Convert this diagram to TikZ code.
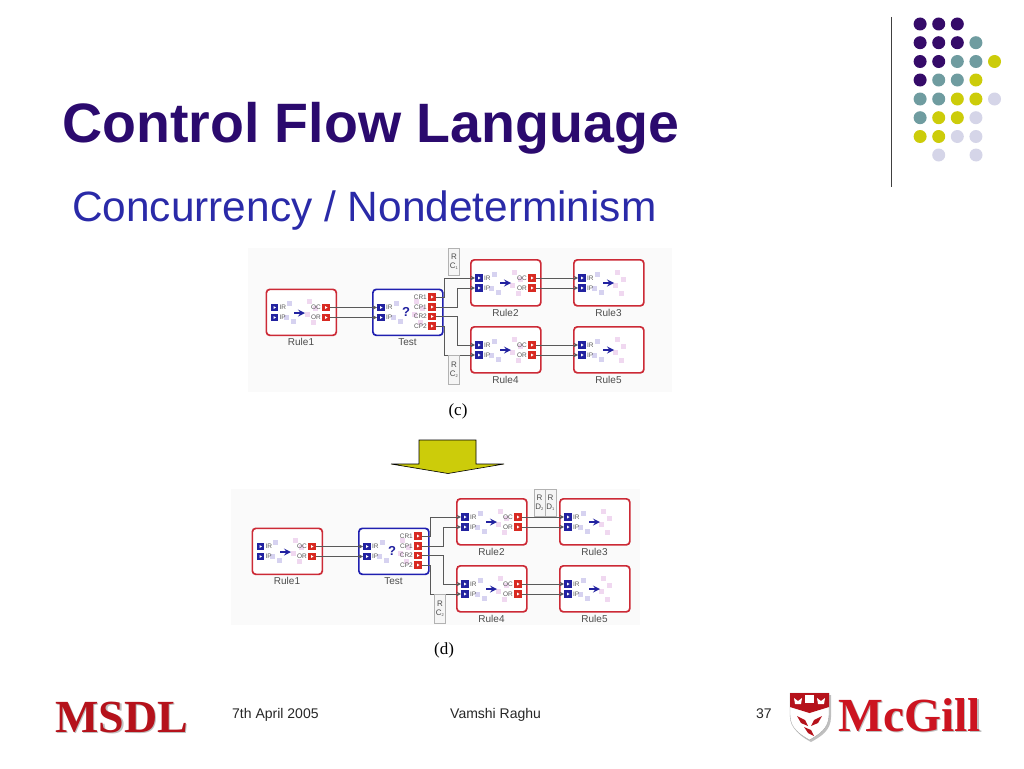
\documentclass[tikz,border=0pt]{standalone}
\usepackage{fontspec}
\usetikzlibrary{positioning}
\setmainfont{Liberation Sans}
\newfontfamily\logofont{Liberation Serif}
\definecolor{titlepurple}{HTML}{2B0A6E}
\definecolor{subblue}{HTML}{2A2AA8}
\definecolor{dotp}{HTML}{350B69}
\definecolor{dott}{HTML}{6F9CA0}
\definecolor{doty}{HTML}{CCCC0A}
\definecolor{dotl}{HTML}{D5D5E8}
\definecolor{rulered}{HTML}{CC2A36}
\definecolor{testblue}{HTML}{2020B0}
\definecolor{portblue}{HTML}{2222A0}
\definecolor{portred}{HTML}{D82A22}
\definecolor{lilacb}{HTML}{D6D2F0}
\definecolor{lilacp}{HTML}{F0D8F0}
\definecolor{logored}{HTML}{B5121B}
\definecolor{mcgillred}{HTML}{CC1420}
\tikzset{
  blockbox/.style={draw,line width=1.7pt,rounded corners=3.5pt,minimum width=70pt,minimum height=46pt,inner sep=0pt,anchor=north west,fill=white},
  port/.style={minimum size=7.5pt,inner sep=0pt,fill=#1},
  portname/.style={font=\fontsize{6.5}{7}\selectfont,text=black!65,inner sep=0pt},
  caption/.style={font=\fontsize{10}{11}\selectfont,text=black!70,inner sep=0pt},
  wire/.style={draw=black!65,line width=1pt},
  wirein/.style={wire,-stealth},
  sidebox/.style={draw=black!30,fill=black!4,minimum width=11pt,inner sep=0pt,align=center,font=\fontsize{8}{10}\selectfont,text=black!70},
  dot/.style={circle,minimum size=13pt,inner sep=0pt,fill=#1},
  foot/.style={font=\fontsize{14}{16}\selectfont,text=black!85,inner sep=0pt}
}
% box, caption, the two inputs and the faint squares
\newcommand{\ruleblock}[5]{
  \node[blockbox,draw=#4] (#1) at (#2,#3) {};
  \node[caption,below=0pt] (#1cap) at (#2+35.5,#3+50) {#5};
  \foreach \dx/\dy in {24/15,28/33,21/29}
    \fill[lilacb] (#2+\dx-2.5,#3+\dy-2.5) rectangle ++(5,5);
  \foreach \dx/\dy in {44/13,42/26,48/34,50/20}
    \fill[lilacp] (#2+\dx-2.5,#3+\dy-2.5) rectangle ++(5,5);
  \node[port=portblue] (#1ir) at (#2+9,#3+19) {};
  \node[port=portblue] (#1ip) at (#2+9,#3+29) {};
  \fill[white] (#1ir.center) ++(-1,-1.5) -- ++(2.5,1.5) -- ++(-2.5,1.5) -- cycle;
  \fill[white] (#1ip.center) ++(-1,-1.5) -- ++(2.5,1.5) -- ++(-2.5,1.5) -- cycle;
  \node[portname,right=1pt of #1ir] (#1irt) {IR};
  \node[portname,right=1pt of #1ip] (#1ipt) {IP};
}
\newcommand{\outport}[5]{
  \node[port=portred] (#1#4) at (#2,#3) {};
  \fill[white] (#1#4.center) ++(-1,-1.5) -- ++(2.5,1.5) -- ++(-2.5,1.5) -- cycle;
  \node[portname,left=1pt of #1#4] (#1#4t) {#5};
}
\newcommand{\goarrow}[2]{
  \draw[portblue,line width=2pt,-stealth] (#1-5,#2) -- (#1+6,#2);
}
% one whole flow: the prefix keeps the node names apart
\newcommand{\flowpart}[1]{
  \ruleblock{#1rone}{265.5}{288.5}{rulered}{Rule1}
  \ruleblock{#1test}{372}{288.5}{testblue}{Test}
  \ruleblock{#1rtwo}{470}{259}{rulered}{Rule2}
  \ruleblock{#1rthree}{573}{259}{rulered}{Rule3}
  \ruleblock{#1rfour}{470}{326}{rulered}{Rule4}
  \ruleblock{#1rfive}{573}{326}{rulered}{Rule5}
  \goarrow{299}{313}
  \node[font=\bfseries\fontsize{13}{14}\selectfont,text=portblue,inner sep=0pt] (#1ask) at (406,312) {?};
  \goarrow{505}{283}
  \goarrow{608}{283}
  \goarrow{505}{350}
  \goarrow{608}{350}
  \outport{#1rone}{326}{307.5}{oc}{OC}
  \outport{#1rone}{326}{317.5}{or}{OR}
  \outport{#1test}{432}{297}{crone}{CR1}
  \outport{#1test}{432}{307}{cpone}{CP1}
  \outport{#1test}{432}{316.5}{crtwo}{CR2}
  \outport{#1test}{432}{326}{cptwo}{CP2}
  \outport{#1rtwo}{532}{278}{oc}{OC}
  \outport{#1rtwo}{532}{288}{or}{OR}
  \outport{#1rfour}{532}{345}{oc}{OC}
  \outport{#1rfour}{532}{355}{or}{OR}
  \draw[wirein] (#1roneoc) -- (#1testir);
  \draw[wirein] (#1roneor) -- (#1testip);
  \draw[wirein] (#1testcrone) -- ++(12,0) |- (#1rtwoir);
  \draw[wirein] (#1testcpone) -- ++(25,0) |- (#1rtwoip);
  \draw[wirein] (#1testcrtwo) -- ++(25,0) |- (#1rfourir);
  \draw[wirein] (#1testcptwo) -- ++(12,0) |- (#1rfourip);
  \draw[wirein] (#1rtwooc) -- (#1rthreeir);
  \draw[wirein] (#1rtwoor) -- (#1rthreeip);
  \draw[wirein] (#1rfouroc) -- (#1rfiveir);
  \draw[wirein] (#1rfouror) -- (#1rfiveip);
  \node[sidebox,minimum height=29pt] (#1rcb) at (454,369.5) {R\\[-1pt]C\textsubscript{\fontsize{4}{4}\selectfont 2}};
}
\begin{document}
\begin{tikzpicture}[x=1pt,y=-1pt]
  \useasboundingbox (0,0) rectangle (1024,768);
  % title
  \node[anchor=base west,inner sep=0pt,font=\bfseries\fontsize{55.5}{60}\selectfont,text=titlepurple] (title) at (62,142) {Control Flow Language};
  \node[anchor=base west,inner sep=0pt,font=\fontsize{42.4}{48}\selectfont,text=subblue] (sub) at (72,221) {Concurrency / Nondeterminism};
  % corner decoration
  \draw[black!75,line width=.9pt] (891,17) -- (891,187);
  \foreach \c [count=\i] in {dotp,dotp,dotp}
    \node[dot=\c] (da\i) at ({901.5+18.6*\i},24) {};
  \foreach \c [count=\i] in {dotp,dotp,dotp,dott}
    \node[dot=\c] (db\i) at ({901.5+18.6*\i},42.7) {};
  \foreach \c [count=\i] in {dotp,dotp,dott,dott,doty}
    \node[dot=\c] (dc\i) at ({901.5+18.6*\i},61.5) {};
  \foreach \c [count=\i] in {dotp,dott,dott,doty}
    \node[dot=\c] (dd\i) at ({901.5+18.6*\i},80) {};
  \foreach \c [count=\i] in {dott,dott,doty,doty,dotl}
    \node[dot=\c] (de\i) at ({901.5+18.6*\i},99) {};
  \foreach \c [count=\i] in {dott,doty,doty,dotl}
    \node[dot=\c] (df\i) at ({901.5+18.6*\i},117.7) {};
  \foreach \c [count=\i] in {doty,doty,dotl,dotl}
    \node[dot=\c] (dg\i) at ({901.5+18.6*\i},136.5) {};
  \node[dot=dotl] (dh2) at (938.7,155) {};
  \node[dot=dotl] (dh4) at (976,155) {};
  % part (c)
  \fill[black!2] (248,248) rectangle (672,392);
  \flowpart{c}
  \node[sidebox,minimum height=27pt] (crct) at (454,261.5) {R\\[-1pt]C\textsubscript{\fontsize{4}{4}\selectfont 1}};
  \node[inner sep=0pt,font=\logofont\fontsize{17}{18}\selectfont] (clabel) at (458,411) {(c)};
  % yellow arrow
  \draw[black,line width=.6pt,fill=doty] (419,440) -- (476,440) -- (476,464) -- (504,464) -- (448,473.5) -- (391,464) -- (419,464) -- cycle;
  % part (d)
  \fill[black!2] (231,489) rectangle (640,625);
  \begin{scope}[shift={(-14,239)}]
    \flowpart{d}
  \end{scope}
  \node[sidebox,minimum height=27pt] (drdb) at (539.5,502.5) {R\\[-1pt]D\textsubscript{\fontsize{4}{4}\selectfont 2}};
  \node[sidebox,minimum height=27pt] (drda) at (550.5,502.5) {R\\[-1pt]D\textsubscript{\fontsize{4}{4}\selectfont 1}};
  \node[inner sep=0pt,font=\logofont\fontsize{17}{18}\selectfont] (dlabel) at (444,650) {(d)};
  % footer
  \node[anchor=base west,inner sep=0pt,text=black!25,font=\logofont\bfseries\fontsize{46}{50}\selectfont] (msdlsh) at (56.5,733.5) {MSDL};
  \node[anchor=base west,inner sep=0pt,text=logored,font=\logofont\bfseries\fontsize{46}{50}\selectfont] (msdl) at (55,732) {MSDL};
  \node[foot,anchor=base west] (fdate) at (232,718) {7th April 2005};
  \node[foot,anchor=base west] (fname) at (450,718) {Vamshi Raghu};
  \node[foot,anchor=base west] (fnum) at (756,718) {37};
  % crest
  \fill[black!25] (792,695) -- (831,695) -- (831,717) .. controls (831,731) and (820,737) .. (811,742) .. controls (802,737) and (792,731) .. (792,717) -- cycle;
  \draw[black!35,fill=white] (790,693) -- (829,693) -- (829,715) .. controls (829,729) and (818,735) .. (809.5,740) .. controls (801,735) and (790,729) .. (790,715) -- cycle;
  \fill[logored] (790,693) -- (829,693) -- (829,707) -- (809.5,713) -- (790,707) -- cycle;
  \fill[white] (805,695) rectangle (814,703);
  \fill[white] (794,698) -- (798,701) -- (802,698) -- (801,704) -- (795,704) -- cycle;
  \fill[white] (817,698) -- (821,701) -- (825,698) -- (824,704) -- (818,704) -- cycle;
  \fill[logored] (797,716) -- (805,720) -- (808,726) -- (801,723) -- cycle;
  \fill[logored] (822,716) -- (814,720) -- (811,726) -- (818,723) -- cycle;
  \fill[logored] (804,727) -- (811,730) -- (814,736) -- (808,733) -- cycle;
  \node[anchor=base west,inner sep=0pt,text=black!25,font=\logofont\bfseries\fontsize{47.5}{50}\selectfont] (mcgillsh) at (839.5,732.5) {McGill};
  \node[anchor=base west,inner sep=0pt,text=mcgillred,font=\logofont\bfseries\fontsize{47.5}{50}\selectfont] (mcgill) at (838,731) {McGill};
\end{tikzpicture}
\end{document}
